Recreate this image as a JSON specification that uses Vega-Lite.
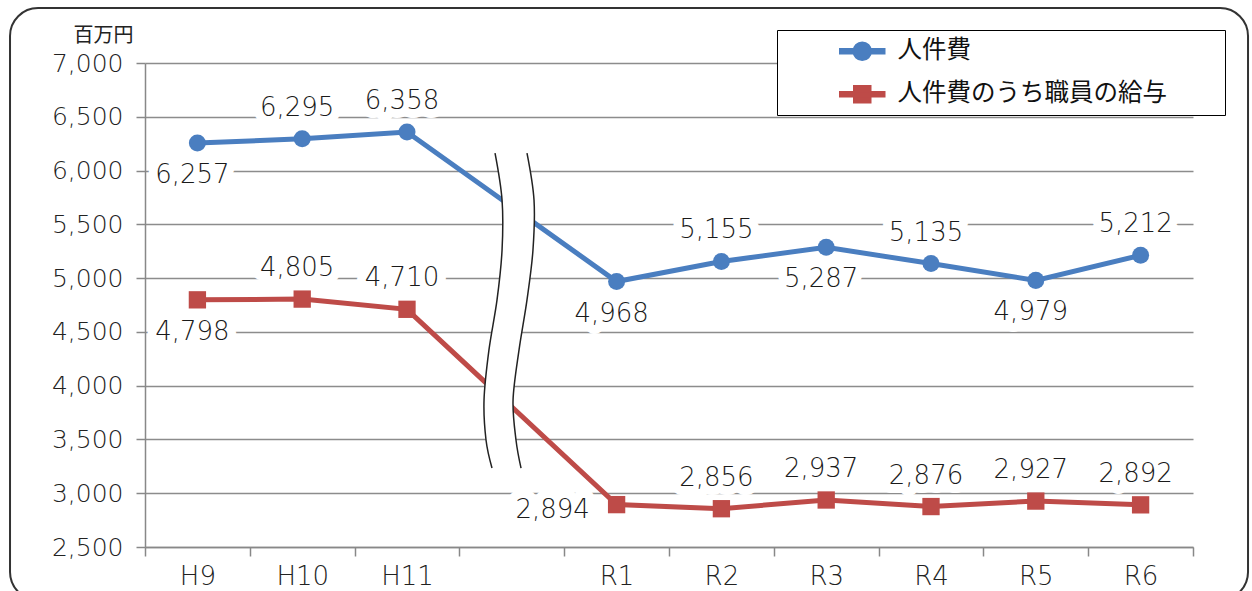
{
  "$schema": "https://vega.github.io/schema/vega-lite/v6.json",
  "width": 1048,
  "height": 484,
  "autosize": {"type": "none"},
  "padding": {"left": 145, "top": 63, "right": 59, "bottom": 44},
  "background": "white",
  "config": {
    "view": {"stroke": null},
    "font": "Noto Sans CJK JP"
  },
  "datasets": {
    "costs": [
      {"year": "H9", "series": "人件費", "value": 6257},
      {"year": "H10", "series": "人件費", "value": 6295},
      {"year": "H11", "series": "人件費", "value": 6358},
      {"year": "R1", "series": "人件費", "value": 4968},
      {"year": "R2", "series": "人件費", "value": 5155},
      {"year": "R3", "series": "人件費", "value": 5287},
      {"year": "R4", "series": "人件費", "value": 5135},
      {"year": "R5", "series": "人件費", "value": 4979},
      {"year": "R6", "series": "人件費", "value": 5212},
      {"year": "H9", "series": "人件費のうち職員の給与", "value": 4798},
      {"year": "H10", "series": "人件費のうち職員の給与", "value": 4805},
      {"year": "H11", "series": "人件費のうち職員の給与", "value": 4710},
      {"year": "R1", "series": "人件費のうち職員の給与", "value": 2894},
      {"year": "R2", "series": "人件費のうち職員の給与", "value": 2856},
      {"year": "R3", "series": "人件費のうち職員の給与", "value": 2937},
      {"year": "R4", "series": "人件費のうち職員の給与", "value": 2876},
      {"year": "R5", "series": "人件費のうち職員の給与", "value": 2927},
      {"year": "R6", "series": "人件費のうち職員の給与", "value": 2892}
    ],
    "brk": [
      {"by": 6163, "bxl": 2.840, "bxr": 3.145},
      {"by": 5726, "bxl": 2.907, "bxr": 3.212},
      {"by": 5261, "bxl": 2.907, "bxr": 3.202},
      {"by": 4797, "bxl": 2.859, "bxr": 3.145},
      {"by": 4332, "bxl": 2.782, "bxr": 3.069},
      {"by": 3867, "bxl": 2.735, "bxr": 3.012},
      {"by": 3495, "bxl": 2.754, "bxr": 3.040},
      {"by": 3234, "bxl": 2.811, "bxr": 3.088}
    ]
  },
  "resolve": {"scale": {"x": "independent"}},
  "layer": [
    {
      "data": {"values": [{"a": 1}]},
      "mark": {"type": "rect", "fill": "transparent", "stroke": "#333333", "strokeWidth": 2, "cornerRadius": 28, "clip": false},
      "encoding": {
        "x": {"datum": -1.788, "type": "quantitative", "scale": {"domain": [-0.5, 9.5], "nice": false, "zero": false}, "axis": null},
        "x2": {"datum": 10.025},
        "y": {"datum": 7511, "type": "quantitative", "title": "百万円", "scale": {"domain": [2500, 7000], "nice": false, "zero": false}},
        "y2": {"datum": 2007}
      }
    },
    {
      "data": {"name": "costs"},
      "mark": {
        "type": "text", "fontSize": 26, "font": "DejaVu Sans", "fontWeight": 200, "fill": "white", "stroke": "white", "strokeWidth": 18, "strokeJoin": "round", "baseline": "middle", "align": "center",
        "dx": {"expr": "datum.year === 'R1' && datum.series !== '人件費' ? -64 : -5"},
        "dy": {"expr": "datum.year === 'R1' && datum.series !== '人件費' ? 5 : (indexof(datum.series === '人件費' ? ['H9', 'R1', 'R3', 'R5'] : ['H9'], datum.year) >= 0 ? 32 : -31)"}
      },
      "encoding": {
        "x": {"field": "year", "type": "nominal", "scale": {"type": "band", "domain": ["H9", "H10", "H11", " ", "R1", "R2", "R3", "R4", "R5", "R6"], "paddingInner": 0, "paddingOuter": 0}, "axis": null},
        "y": {"field": "value", "type": "quantitative", "title": "百万円", "scale": {"domain": [2500, 7000], "nice": false, "zero": false}},
        "text": {"field": "value", "type": "quantitative", "format": ","}
      }
    },
    {
      "data": {"name": "costs"},
      "mark": {"type": "line", "strokeWidth": 5},
      "encoding": {
        "x": {
          "field": "year", "type": "nominal", "title": null,
          "scale": {"type": "band", "domain": ["H9", "H10", "H11", " ", "R1", "R2", "R3", "R4", "R5", "R6"], "paddingInner": 0, "paddingOuter": 0},
          "axis": {"labelAngle": 0, "tickBand": "extent", "labelFontSize": 26, "labelColor": "#222222", "labelFont": "DejaVu Sans", "labelFontWeight": 200, "labelPadding": 7, "tickSize": 9, "tickColor": "#888888", "tickWidth": 1.5, "domainColor": "#888888", "domainWidth": 1.5, "grid": false}
        },
        "y": {
          "field": "value", "type": "quantitative", "title": "百万円",
          "scale": {"domain": [2500, 7000], "nice": false, "zero": false},
          "axis": {"values": [2500, 3000, 3500, 4000, 4500, 5000, 5500, 6000, 6500, 7000], "format": ",", "labelExpr": "format(datum.value, ',')", "labelFontSize": 25, "labelColor": "#222222", "labelFont": "DejaVu Sans", "labelFontWeight": 200, "labelPadding": 13, "tickSize": 9, "tickColor": "#888888", "tickWidth": 1.5, "domainColor": "#888888", "domainWidth": 1.5, "grid": true, "gridColor": "#8c8c8c", "gridWidth": 1.5, "titleAngle": 0, "titleX": -42, "titleY": -28, "titleAlign": "center", "titleBaseline": "middle", "titleFontSize": 20, "titleFontWeight": "normal", "titleFont": "Noto Sans CJK JP", "titleColor": "#222222"}
        },
        "color": {
          "field": "series", "type": "nominal",
          "scale": {"domain": ["人件費", "人件費のうち職員の給与"], "range": ["#4a7ec0", "#be4b48"]},
          "legend": {
            "title": null, "orient": "none", "legendX": 632, "legendY": -33,
            "fillColor": "white", "strokeColor": "black",
            "padding": 9, "symbolOffset": 64, "symbolSize": 400,
            "labelFontSize": 24.5, "labelFont": "Noto Sans CJK JP", "labelColor": "#111111",
            "labelOffset": 23, "rowPadding": 17, "labelLimit": 600,
            "labelExpr": "datum.label + '\u3000\u3000\u200b'",
            "encode": {
              "symbols": {
                "update": {
                  "shape": {"signal": "datum.value === '人件費' ? 'M-2.25,-0.25H2.25V0.25H-2.25Z M0.9,0A0.9,0.9 0 1,1 -0.9,0A0.9,0.9 0 1,1 0.9,0Z' : 'M-2.25,-0.25H2.25V0.25H-2.25Z M-0.85,-0.85H0.85V0.85H-0.85Z'"},
                  "fill": {"signal": "datum.value === '人件費' ? '#4a7ec0' : '#be4b48'"},
                  "stroke": {"value": "transparent"},
                  "opacity": {"value": 1}
                }
              }
            }
          }
        }
      }
    },
    {
      "data": {"name": "brk"},
      "mark": {"type": "area", "orient": "horizontal", "fill": "white", "interpolate": "cardinal"},
      "encoding": {
        "y": {"field": "by", "type": "quantitative", "title": "百万円", "scale": {"domain": [2500, 7000], "nice": false, "zero": false}},
        "x": {"field": "bxl", "type": "quantitative", "scale": {"domain": [-0.5, 9.5], "nice": false, "zero": false}, "axis": null},
        "x2": {"field": "bxr"}
      }
    },
    {
      "data": {"name": "brk"},
      "mark": {"type": "line", "stroke": "#222222", "strokeWidth": 1.5, "interpolate": "cardinal"},
      "encoding": {
        "y": {"field": "by", "type": "quantitative", "title": "百万円", "scale": {"domain": [2500, 7000], "nice": false, "zero": false}},
        "x": {"field": "bxl", "type": "quantitative", "scale": {"domain": [-0.5, 9.5], "nice": false, "zero": false}, "axis": null},
        "order": {"field": "by", "sort": "descending"}
      }
    },
    {
      "data": {"name": "brk"},
      "mark": {"type": "line", "stroke": "#222222", "strokeWidth": 1.5, "interpolate": "cardinal"},
      "encoding": {
        "y": {"field": "by", "type": "quantitative", "title": "百万円", "scale": {"domain": [2500, 7000], "nice": false, "zero": false}},
        "x": {"field": "bxr", "type": "quantitative", "scale": {"domain": [-0.5, 9.5], "nice": false, "zero": false}, "axis": null},
        "order": {"field": "by", "sort": "descending"}
      }
    },
    {
      "data": {"name": "costs"},
      "transform": [{"filter": "datum.series === '人件費'"}],
      "mark": {"type": "point", "filled": true, "opacity": 1, "shape": "circle", "size": 290},
      "encoding": {
        "x": {"field": "year", "type": "nominal", "scale": {"type": "band", "domain": ["H9", "H10", "H11", " ", "R1", "R2", "R3", "R4", "R5", "R6"], "paddingInner": 0, "paddingOuter": 0}, "axis": null},
        "y": {"field": "value", "type": "quantitative", "title": "百万円", "scale": {"domain": [2500, 7000], "nice": false, "zero": false}},
        "color": {"field": "series", "type": "nominal", "legend": null}
      }
    },
    {
      "data": {"name": "costs"},
      "transform": [{"filter": "datum.series !== '人件費'"}],
      "mark": {"type": "point", "filled": true, "opacity": 1, "shape": "square", "size": 300},
      "encoding": {
        "x": {"field": "year", "type": "nominal", "scale": {"type": "band", "domain": ["H9", "H10", "H11", " ", "R1", "R2", "R3", "R4", "R5", "R6"], "paddingInner": 0, "paddingOuter": 0}, "axis": null},
        "y": {"field": "value", "type": "quantitative", "title": "百万円", "scale": {"domain": [2500, 7000], "nice": false, "zero": false}},
        "color": {"field": "series", "type": "nominal", "legend": null}
      }
    },
    {
      "data": {"name": "costs"},
      "mark": {
        "type": "text", "fontSize": 26, "font": "DejaVu Sans", "fontWeight": 200, "fill": "#1a1a1a", "baseline": "middle", "align": "center",
        "dx": {"expr": "datum.year === 'R1' && datum.series !== '人件費' ? -64 : -5"},
        "dy": {"expr": "datum.year === 'R1' && datum.series !== '人件費' ? 5 : (indexof(datum.series === '人件費' ? ['H9', 'R1', 'R3', 'R5'] : ['H9'], datum.year) >= 0 ? 32 : -31)"}
      },
      "encoding": {
        "x": {"field": "year", "type": "nominal", "scale": {"type": "band", "domain": ["H9", "H10", "H11", " ", "R1", "R2", "R3", "R4", "R5", "R6"], "paddingInner": 0, "paddingOuter": 0}, "axis": null},
        "y": {"field": "value", "type": "quantitative", "title": "百万円", "scale": {"domain": [2500, 7000], "nice": false, "zero": false}},
        "text": {"field": "value", "type": "quantitative", "format": ","}
      }
    }
  ]
}
